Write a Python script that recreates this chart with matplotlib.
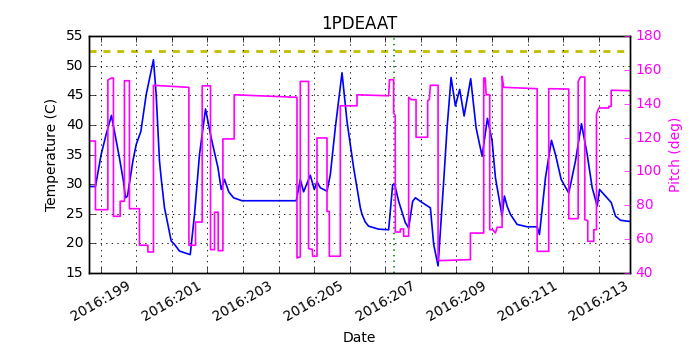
import matplotlib
matplotlib.use('Agg')
from matplotlib import pyplot as plt
from matplotlib.ticker import FixedLocator, FuncFormatter

# temperature trace (day of year 2016, deg C)
temp_day = [198.668, 198.854, 199.014, 199.155, 199.304, 199.529, 199.641, 199.698,
            199.754, 199.906, 200.0, 200.131, 200.280, 200.485, 200.561, 200.654,
            200.70, 200.795, 200.89, 200.983, 201.08, 201.217, 201.518, 201.639,
            201.779, 201.948, 202.108, 202.297, 202.390, 202.482, 202.60, 202.736,
            202.972, 204.499, 204.612, 204.705, 204.893, 205.006, 205.082, 205.174,
            205.363, 205.456, 205.596, 205.785, 205.925, 206.111, 206.300, 206.347,
            206.44, 206.533, 206.814, 207.096, 207.208, 207.264, 207.377, 207.565,
            207.658, 207.771, 207.847, 208.035, 208.269, 208.362, 208.485, 208.643,
            208.738, 208.851, 208.972, 209.093, 209.217, 209.402, 209.554, 209.723,
            209.872, 210.004, 210.097, 210.285, 210.350, 210.43, 210.519, 210.707,
            210.989, 211.270, 211.335, 211.504, 211.672, 211.785, 211.945, 212.159,
            212.347, 212.516, 212.677, 212.817, 212.958, 213.023, 213.143, 213.352,
            213.473, 213.613, 213.875]
temp_val = [29.6, 29.6, 35.0, 38.4, 41.6, 34.4, 30.5, 27.7,
            28.0, 33.9, 36.7, 38.9, 45.1, 51.0, 45.1, 33.9,
            31.1, 26.0, 23.2, 20.4, 19.8, 18.7, 18.1, 24.9,
            35.0, 42.7, 37.8, 32.8, 29.1, 30.8, 28.7, 27.7,
            27.2, 27.2, 30.8, 28.7, 31.5, 29.1, 30.4, 29.4,
            28.8, 31.6, 39.5, 48.8, 40.6, 32.8, 26.0, 24.9,
            23.6, 22.9, 22.4, 22.3, 29.9, 30.0, 27.1, 23.5,
            22.6, 27.1, 27.7, 26.9, 26.0, 19.8, 16.2, 30.5,
            39.5, 48.0, 43.2, 46.0, 41.5, 47.8, 39.5, 34.7,
            41.1, 37.3, 31.1, 24.6, 28.0, 26.2, 24.9, 23.2,
            22.8, 22.8, 21.5, 31.1, 37.4, 35.0, 30.8, 28.5,
            33.9, 40.2, 35.0, 29.4, 26.3, 29.1, 28.3, 26.9,
            24.6, 23.9, 23.7]

# pitch trace (deg)
pitch_day = [198.668, 198.854, 198.854, 199.203, 199.203, 199.30, 199.36, 199.36,
             199.549, 199.549, 199.669, 199.669, 199.81, 199.81, 200.091, 200.091,
             200.328, 200.328, 200.485, 200.485, 201.481, 201.481, 201.667, 201.667,
             201.855, 201.855, 202.089, 202.089, 202.201, 202.201, 202.305, 202.305,
             202.437, 202.437, 202.755, 202.755, 204.519, 204.519, 204.612, 204.612,
             204.845, 204.845, 204.95, 204.96, 205.082, 205.082, 205.363, 205.363,
             205.428, 205.428, 205.737, 205.737, 206.207, 206.207, 207.096, 207.12,
             207.236, 207.236, 207.28, 207.284, 207.425, 207.425, 207.518, 207.518,
             207.658, 207.658, 207.734, 207.866, 207.866, 208.193, 208.193, 208.24,
             208.269, 208.485, 208.485, 209.394, 209.394, 209.768, 209.768, 209.81,
             209.836, 209.937, 209.937, 210.02, 210.097, 210.145, 210.285, 210.285,
             210.33, 211.27, 211.27, 211.596, 211.596, 212.159, 212.159, 212.423,
             212.423, 212.488, 212.609, 212.609, 212.693, 212.693, 212.862, 212.862,
             212.938, 212.938, 213.003, 213.284, 213.284, 213.352, 213.352, 213.875]
pitch_val = [118.0, 118.0, 77.4, 77.4, 154.0, 155.2, 155.2, 73.5,
             73.5, 82.4, 82.4, 153.6, 153.6, 78.0, 78.0, 56.4,
             56.4, 52.4, 52.4, 150.9, 149.7, 56.4, 56.4, 70.1,
             70.1, 150.6, 150.6, 53.8, 53.8, 75.9, 75.9, 53.2,
             53.2, 119.2, 119.2, 145.3, 143.8, 48.9, 49.5, 153.2,
             153.2, 54.4, 54.0, 49.9, 49.9, 119.8, 119.8, 76.4,
             76.4, 49.9, 49.9, 138.8, 138.8, 145.3, 144.7, 154.2,
             154.2, 134.5, 133.0, 64.2, 64.2, 66.0, 66.0, 61.7,
             61.7, 143.8, 142.4, 142.4, 120.2, 120.2, 141.8, 142.5,
             150.9, 150.9, 47.3, 47.9, 63.6, 63.6, 155.2, 155.2,
             145.3, 145.3, 65.6, 65.6, 63.6, 67.0, 67.0, 156.2,
             149.7, 148.9, 52.8, 52.8, 148.9, 148.7, 72.1, 72.1,
             153.2, 155.8, 155.8, 71.5, 71.0, 58.7, 58.7, 65.6,
             65.6, 133.9, 137.5, 137.5, 138.5, 138.5, 148.0, 147.7]

temp_limit = 52.5
top_limit = 55.0
event_day = 207.25

plt.style.use('classic')
plt.rcParams['font.size'] = 10

fig = plt.figure(figsize=(7, 3.5), dpi=100)
ax1 = fig.add_axes([0.127, 0.22, 0.773, 0.677])
ax1.plot(temp_day, temp_val, color='b', lw=1.2)
ax1.axhline(temp_limit, color='y', ls='--', lw=2, dashes=(5, 5))
ax1.axhline(top_limit, color='y', lw=1.5)
ax1.axvline(event_day, color='g', ls=':', lw=1.2)
ax1.set_xlim(198.67, 213.88)
ax1.set_ylim(15, 55)
ax1.set_yticks(range(15, 56, 5))
ax1.set_ylabel('Temperature (C)')
ax1.set_xlabel('Date')
ax1.set_title('1PDEAAT', fontsize=12)

ax1.xaxis.set_major_locator(FixedLocator(range(199, 214)))
ax1.xaxis.set_major_formatter(FuncFormatter(
    lambda v, pos: '2016:%03d' % int(round(v)) if int(round(v)) % 2 == 1 else ''))
plt.setp(ax1.get_xticklabels(), rotation=30, ha='center')
ax1.grid(True, color='k', ls=':', lw=0.6)

ax2 = ax1.twinx()
ax2.plot(pitch_day, pitch_val, color='#ff00ff', lw=1.2)
ax2.set_ylim(40, 180)
ax2.set_yticks(range(40, 181, 20))
ax2.set_ylabel('Pitch (deg)', color='#ff00ff')
ax2.tick_params(axis='y', colors='#ff00ff')
ax2.set_xlim(198.67, 213.88)

plt.savefig('out.png')
